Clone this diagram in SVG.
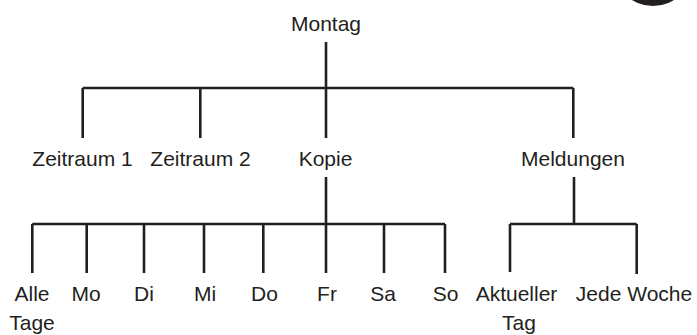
<svg xmlns="http://www.w3.org/2000/svg" width="697" height="335" viewBox="0 0 697 335">
<style>
text{font-family:"Liberation Sans",Arial,sans-serif;font-size:21px;fill:#231f20;text-anchor:middle}
.c{stroke:#231f20;stroke-width:2.6;fill:none;stroke-linecap:butt}
</style>
<rect width="697" height="335" fill="#fff"/>
<circle cx="653" cy="-34" r="40" fill="#231f20"/>
<g id="connectors" class="c">
<path d="M326 42V88M82.7 88H573.3M82.7 88V138M200.3 88V138M326 88V138M573.3 88V138"/>
<path d="M326 177V224M32.3 224H445M32.3 224V273M86.7 224V273M144 224V273M204 224V273M263.3 224V273M326 224V273M384 224V273M445 224V273"/>
<path d="M574 177V224M510 224H636.7M510 224V272M636.7 224V274"/>
</g>
<g id="montag"><text x="326" y="31">Montag</text></g>
<g id="zeitraum1"><text x="82.5" y="166">Zeitraum 1</text></g>
<g id="zeitraum2"><text x="200.5" y="166">Zeitraum 2</text></g>
<g id="kopie"><text x="325.5" y="166">Kopie</text></g>
<g id="meldungen"><text x="573" y="166">Meldungen</text></g>
<g id="alle"><text x="32" y="301">Alle</text><text x="32" y="330">Tage</text></g>
<g id="mo"><text x="86" y="301">Mo</text></g>
<g id="di"><text x="144" y="301">Di</text></g>
<g id="mi"><text x="205" y="301">Mi</text></g>
<g id="do"><text x="264.5" y="301">Do</text></g>
<g id="fr"><text x="327" y="301">Fr</text></g>
<g id="sa"><text x="383" y="301">Sa</text></g>
<g id="so"><text x="445.5" y="301">So</text></g>
<g id="aktuell"><text x="516.5" y="301">Aktueller</text><text x="519" y="330">Tag</text></g>
<g id="woche"><text x="634" y="301">Jede Woche</text></g>
</svg>
